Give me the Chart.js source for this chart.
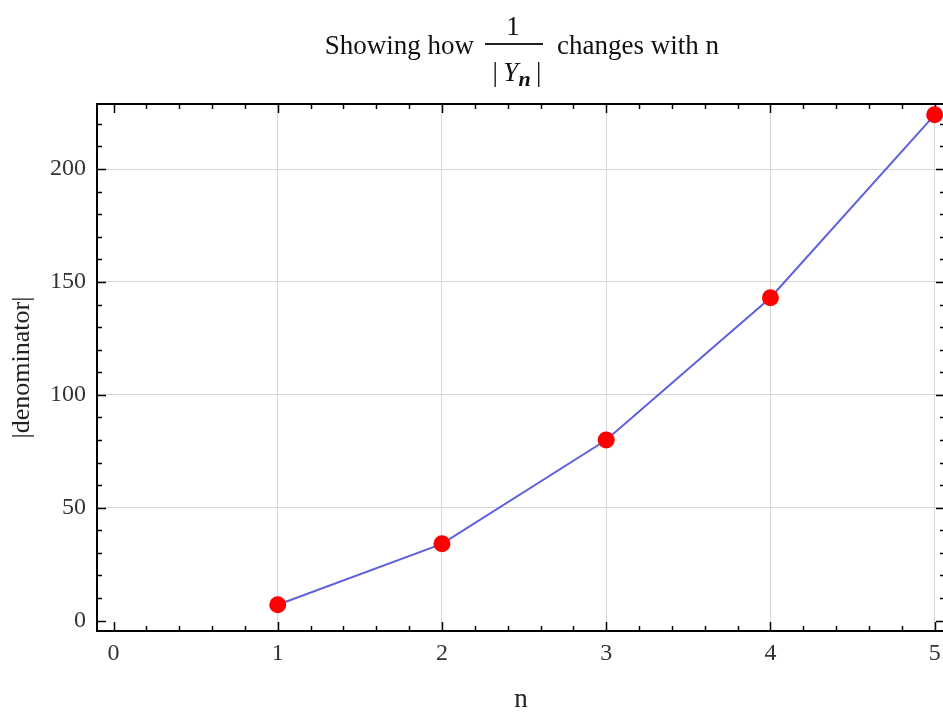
<!DOCTYPE html>
<html><head><meta charset="utf-8">
<script src="https://cdn.jsdelivr.net/npm/chart.js@4"></script>
<style>
html,body{margin:0;padding:0;background:#fff;overflow:hidden;}
#wrap{position:relative;width:943px;height:712px;overflow:hidden;}
canvas{position:absolute;left:0;top:0;}
.t{position:absolute;font-family:'Liberation Serif','Times New Roman',serif;font-size:27px;line-height:27px;color:#111;white-space:nowrap;}
</style></head><body>
<div id="wrap">
<canvas id="c" width="960" height="712" style="width:960px;height:712px;"></canvas>
<div class="t" style="right:469px;top:32px;">Showing how</div>
<div class="t" style="left:463px;width:100px;text-align:center;top:13px;">1</div>
<div style="position:absolute;left:485px;top:43px;width:58px;height:2px;background:#222;"></div>
<div class="t" style="left:467px;width:100px;text-align:center;top:59px;">|&thinsp;<i>Y</i><span style="font-size:22px;font-style:italic;font-weight:bold;position:relative;top:5px;">n</span>&thinsp;|</div>
<div class="t" style="left:557px;top:32px;">changes with n</div>
</div>
<script>
const nValues = [1, 2, 3, 4, 5];
const denominatorValues = [7, 34, 80, 143, 224];
const xTickValues = [0, 1, 2, 3, 4, 5];
const yTickValues = [0, 50, 100, 150, 200];
const xMinorStep = 0.2;
const yMinorStep = 10;
const xRange = [-0.1005, 5.063];
const yRange = [-4.6, 228.8];
const FONT = "'Liberation Serif','Times New Roman',serif";

function minorValues(min, max, step) {
  const out = [];
  for (let k = Math.ceil(min / step - 1e-9); k * step <= max + 1e-9; k++) out.push(k * step);
  return out;
}
function isMajor(v, majors) { return majors.some(m => Math.abs(m - v) < 1e-6); }

const framePlugin = {
  id: 'frame',
  beforeDatasetsDraw(chart) {
    const { ctx, chartArea: a, scales: { x, y } } = chart;
    ctx.save();
    ctx.strokeStyle = '#000';
    ctx.lineWidth = 2;
    ctx.beginPath();
    ctx.moveTo(a.left, a.top); ctx.lineTo(a.right, a.top); ctx.lineTo(a.right, a.bottom);
    ctx.stroke();
    ctx.lineWidth = 1.5;
    ctx.beginPath();
    minorValues(x.min, x.max, xMinorStep).forEach(v => {
      const len = isMajor(v, xTickValues) ? 9 : 5;
      const px = Math.round(x.getPixelForValue(v)) + 0.5;
      ctx.moveTo(px, a.bottom); ctx.lineTo(px, a.bottom - len);
      ctx.moveTo(px, a.top); ctx.lineTo(px, a.top + len);
    });
    minorValues(y.min, y.max, yMinorStep).forEach(v => {
      const len = isMajor(v, yTickValues) ? 9 : 5;
      const py = Math.round(y.getPixelForValue(v)) + 0.5;
      ctx.moveTo(a.left, py); ctx.lineTo(a.left + len, py);
      ctx.moveTo(a.right, py); ctx.lineTo(a.right - len, py);
    });
    ctx.stroke();
    ctx.restore();
  }
};

const gridColor = c => (c.tick && c.tick.value === 0) ? 'rgba(0,0,0,0)' : '#d6d6d6';

new Chart(document.getElementById('c'), {
  type: 'line',
  data: {
    datasets: [{
      data: nValues.map((n, i) => ({ x: n, y: denominatorValues[i] })),
      borderColor: 'rgb(95,95,225)',
      borderWidth: 2,
      pointRadius: 8.5,
      pointBackgroundColor: '#ff0000',
      pointBorderColor: '#ff0000',
      pointBorderWidth: 0,
      tension: 0,
      clip: false
    }]
  },
  options: {
    responsive: false,
    animation: false,
    devicePixelRatio: 1,
    layout: { padding: { top: 104, left: 0, right: 15, bottom: 0 } },
    plugins: { legend: { display: false }, tooltip: { enabled: false }, title: { display: false } },
    scales: {
      x: {
        type: 'linear', min: xRange[0], max: xRange[1],
        afterBuildTicks: s => { s.ticks = xTickValues.map(v => ({ value: v })); },
        afterFit: s => { s.height = 81; },
        grid: { drawTicks: false, color: gridColor, lineWidth: 1 },
        border: { color: '#000', width: 2 },
        ticks: { padding: 8, color: '#333', autoSkip: false, maxRotation: 0, font: { family: FONT, size: 24 } },
        title: { display: true, text: 'n', color: '#222', font: { family: FONT, size: 27, lineHeight: 0.8 }, padding: { top: 0, bottom: 1 } }
      },
      y: {
        type: 'linear', min: yRange[0], max: yRange[1],
        afterBuildTicks: s => { s.ticks = yTickValues.map(v => ({ value: v })); },
        afterFit: s => { s.width = 97; },
        grid: { drawTicks: false, color: gridColor, lineWidth: 1 },
        border: { color: '#000', width: 2 },
        ticks: { padding: 11, color: '#333', font: { family: FONT, size: 24 } },
        title: { display: true, text: '|denominator|', color: '#222', font: { family: FONT, size: 26, lineHeight: 0.8 }, padding: { top: 11.6, bottom: 0 } }
      }
    }
  },
  plugins: [framePlugin]
});
</script>
</body></html>
